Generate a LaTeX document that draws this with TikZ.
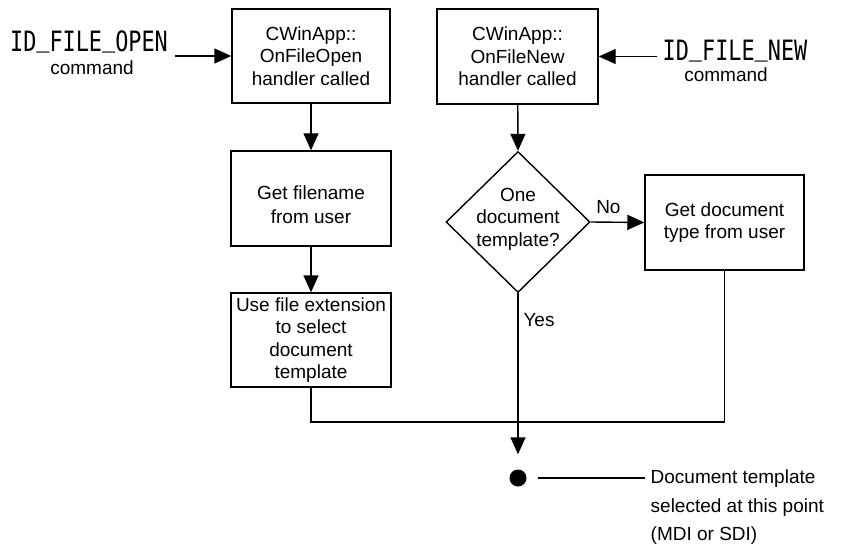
\documentclass[tikz,border=0pt]{standalone}
\usepackage{fontspec}
\setmainfont{Liberation Sans}
\newfontfamily\cmdfont[FakeStretch=0.78]{DejaVu Sans Mono}
\usetikzlibrary{arrows.meta,shapes.geometric}
% underscore sitting on the baseline, as in the command names
\newcommand\lowbar{\raisebox{5pt}{\_}}
\begin{document}
\begin{tikzpicture}[x=1pt,y=-1pt,
  line width=1.4pt,
  font=\fontsize{19}{22.5}\selectfont,
  flow/.style={draw, line width=1.4pt, inner sep=0pt, align=center},
  arr/.style={-{Triangle[length=17pt,width=15pt]}},
  cmd/.style={font=\fontsize{28}{30}\selectfont\cmdfont, inner sep=0pt, anchor=base},
  lbl/.style={inner sep=0pt, anchor=base}]
\useasboundingbox (0,0) rectangle (848,548);

% process boxes
\node[flow, minimum width=158pt, minimum height=94pt] (open) at (311,56)
  {CWinApp::\\OnFileOpen\\handler called};
\node[flow, minimum width=161pt, minimum height=95pt] (new) at (517.5,56.5)
  {CWinApp::\\OnFileNew\\handler called};
\node[flow, minimum width=160pt, minimum height=95pt] (getname) at (311,198.5) {};
\node[align=center, inner sep=0pt, font=\fontsize{19}{24}\selectfont] (getnametext) at (311,205)
  {Get filename\\from user};
\node[flow, minimum width=160pt, minimum height=94pt] (ext) at (311,340)
  {Use file extension\\to select\\document\\template};
\node[flow, minimum width=159pt, minimum height=95pt] (gettype) at (724.5,222.5)
  {Get document\\type from user};

% decision
\node[draw, shape=diamond, inner sep=0pt, minimum width=144pt, minimum height=141pt] (dec) at (518,222) {};
\node[align=center, inner sep=0pt] (dectext) at (518,219) {One\\document\\template?};

% incoming commands
\node[cmd] (idopen) at (89,52) {ID\lowbar FILE\lowbar OPEN};
\node[lbl] (cmdopen) at (92,75) {command};
\node[cmd] (idnew) at (735,61) {ID\lowbar FILE\lowbar NEW};
\node[lbl] (cmdnew) at (726,82) {command};
\coordinate (openin) at (175,56);
\coordinate (newin) at (657,56.5);

% result point
\node[circle, fill=black, inner sep=0pt, minimum size=17pt] (dot) at (518,478) {};
\coordinate (noteend) at (645,478);
\node[anchor=north west, inner sep=0pt, align=left, font=\fontsize{19}{28.5}\selectfont] (note) at (650,469.5)
  {Document template\\selected at this point\\(MDI or SDI)};
\coordinate (merge) at (518,422);

% connectors
\draw[arr] (openin) -- (open.west);
\draw[arr] (newin) -- (new.east);
\draw[arr] (open) -- (getname);
\draw[arr] (getname) -- (ext);
\draw[arr] (new) -- (dec.north);
\draw[arr] (dec.east) -- node[pos=0.33, above=8pt, inner sep=0pt] (no) {No} (gettype.west);
\draw[arr, shorten >=14.5pt] (dec.south) -- (dot.north);
\node[lbl] (yes) at (539,326) {Yes};
\draw (ext.south) |- (merge) -| (gettype.south);
\draw[shorten <=10.5pt] (dot.east) -- (noteend);
\end{tikzpicture}
\end{document}
